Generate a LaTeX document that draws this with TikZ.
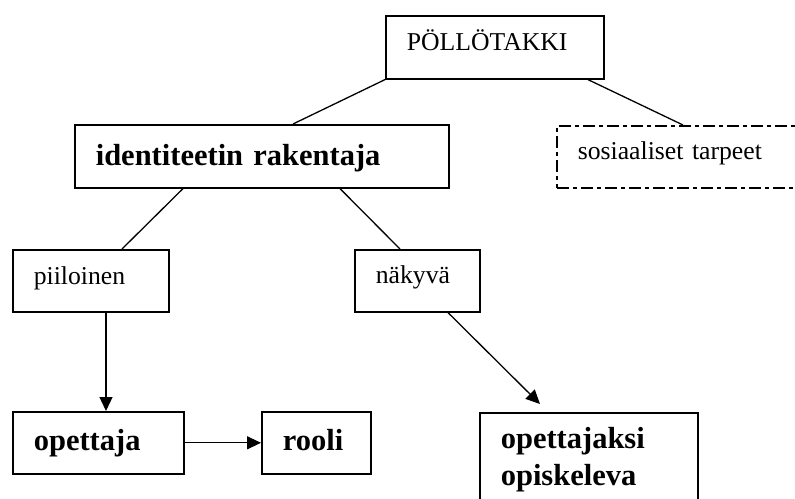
\documentclass[tikz,border=0pt]{standalone}
\usepackage{fontspec}
\setmainfont{Liberation Serif}
\usetikzlibrary{arrows.meta}

\tikzset{
  box/.style={draw, line width=1.6pt, anchor=north west, inner xsep=21pt, inner ysep=0pt,
    align=left, font=\fontsize{25.7pt}{30pt}\selectfont},
  boldbox/.style={box, font=\fontsize{30.5pt}{37pt}\selectfont\bfseries},
  link/.style={line width=1.3pt},
  arrowlink/.style={line width=1.3pt, -{Triangle[length=14pt,width=13pt]}}
}

\begin{document}
\begin{tikzpicture}[x=1pt, y=-1pt]
    \useasboundingbox (0,0) rectangle (795,498);
    \clip (0,0) rectangle (795,498);

    % top level
    \node[box, text width=176pt, text height=35pt, text depth=28pt] (pollo) at (385,15) {PÖLLÖTAKKI};
    \node[boldbox, text width=332pt, text height=41pt, text depth=22pt] (ident) at (74,124) {identiteetin rakentaja};
    \node[box, text width=258pt, text height=34pt, text depth=28pt,
          dash pattern=on 12pt off 4pt on 4pt off 4pt] (sosial) at (556,125) {sosiaaliset tarpeet};

    % second level
    \node[box, text width=114pt, text height=35pt, text depth=27pt] (piil) at (12,249) {piiloinen};
    \node[box, text width=83pt, text height=34pt, text depth=28pt] (nakyva) at (354,249) {näkyvä};

    % bottom row
    \node[boldbox, text width=129pt, text height=39pt, text depth=23pt] (opettaja) at (12,411) {opettaja};
    \node[boldbox, text width=67pt, text height=39pt, text depth=23pt] (rooli) at (261,411) {rooli};
    \node[boldbox, text width=176pt, text height=36pt, text depth=90pt] (opisk) at (479,412) {opettajaksi\\opiskeleva};

    % lines between boxes
    \draw[link] (pollo.south west) -- ([xshift=219pt]ident.north west);
    \draw[link] ([xshift=203pt]pollo.south west) -- ([xshift=127pt]sosial.north west);
    \draw[link] ([xshift=109pt]ident.south west) -- ([xshift=110pt]piil.north west);
    \draw[link] ([xshift=266pt]ident.south west) -- ([xshift=46pt]nakyva.north west);

    % arrows
    \draw[arrowlink] ([xshift=94pt]piil.south west) -- ([xshift=94pt]opettaja.north west);
    \draw[arrowlink] (opettaja.east) -- (rooli.west);
    \draw[arrowlink] ([xshift=94pt]nakyva.south west) -- ([xshift=61pt,yshift=8pt]opisk.north west);
\end{tikzpicture}
\end{document}
